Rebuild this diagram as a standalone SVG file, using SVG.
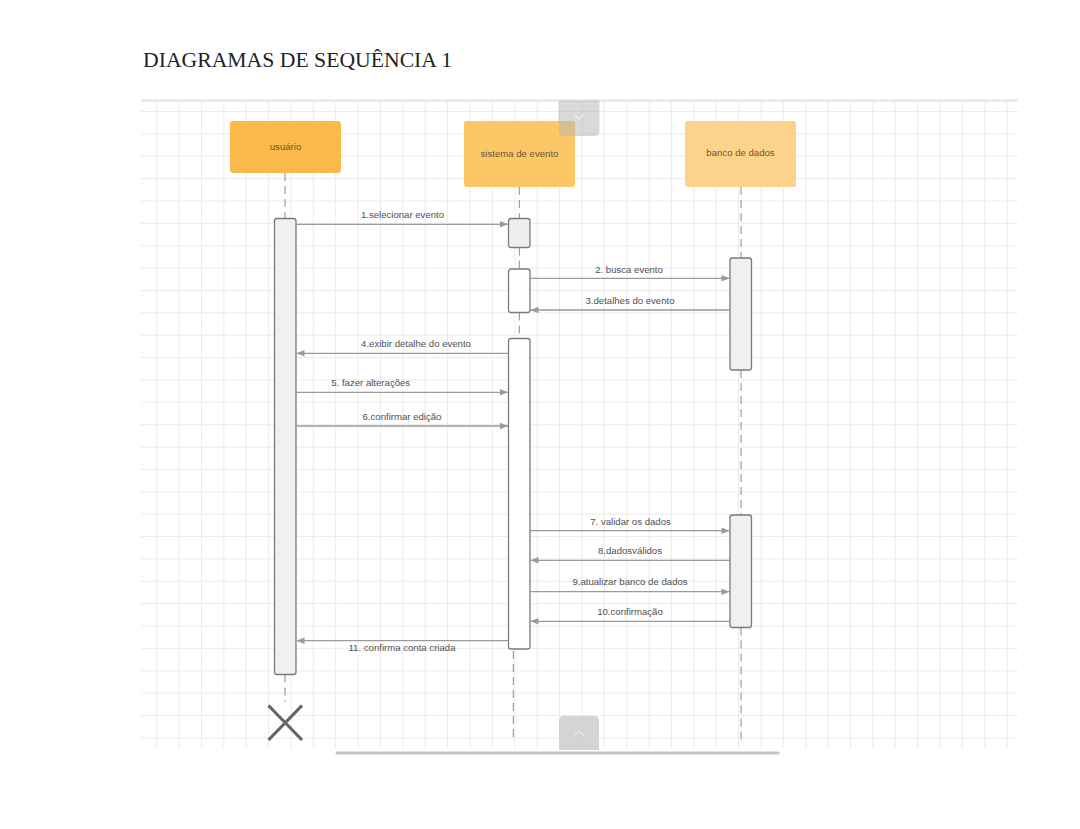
<svg xmlns="http://www.w3.org/2000/svg" width="1080" height="829" viewBox="0 0 1080 829">
<defs>
<style>
.grid{stroke:#ebebeb;stroke-width:1;fill:none}
.life{stroke:#8a8a8a;stroke-width:1;stroke-dasharray:8 5;fill:none}
.act{stroke:#7a7a7a;stroke-width:1.3}
.msg{stroke:#9a9a9a;stroke-width:1.3;fill:none}
.lbl{font-family:"Liberation Sans",Arial,sans-serif;font-size:9.6px;fill:#505050;text-anchor:middle}
.ntxt{font-family:"Liberation Sans",Arial,sans-serif;font-size:9.6px;fill:#6a5632;text-anchor:middle}
</style>
<marker id="arr" viewBox="0 0 10 10" refX="10" refY="5" markerWidth="9" markerHeight="8" markerUnits="userSpaceOnUse" orient="auto">
<path d="M0,1 L10,5 L0,9 Z" fill="#9a9a9a"/>
</marker>
</defs>
<rect width="1080" height="829" fill="#ffffff"/>
<text x="143" y="67" font-family="'Liberation Serif','Times New Roman',serif" font-size="21.7" fill="#222">DIAGRAMAS DE SEQUÊNCIA 1</text>
<g id="grid">
<path class="grid" d="M156.7 101V748M179.1 101V748M201.5 101V748M223.8 101V748M246.2 101V748M268.6 101V748M291 101V748M313.4 101V748M335.7 101V748M358.1 101V748M380.5 101V748M402.9 101V748M425.3 101V748M447.6 101V748M470 101V748M492.4 101V748M514.8 101V748M537.2 101V748M559.5 101V748M581.9 101V748M604.3 101V748M626.7 101V748M649.1 101V748M671.4 101V748M693.8 101V748M716.2 101V748M738.6 101V748M761 101V748M783.3 101V748M805.7 101V748M828.1 101V748M850.5 101V748M872.9 101V748M895.2 101V748M917.6 101V748M940 101V748M962.4 101V748M984.8 101V748M1007.1 101V748"/>
<path class="grid" d="M141 111.5H1018M141 133.9H1018M141 156.2H1018M141 178.6H1018M141 201H1018M141 223.4H1018M141 245.7H1018M141 268.1H1018M141 290.5H1018M141 312.8H1018M141 335.2H1018M141 357.6H1018M141 379.9H1018M141 402.3H1018M141 424.7H1018M141 447.1H1018M141 469.4H1018M141 491.8H1018M141 514.2H1018M141 536.5H1018M141 558.9H1018M141 581.3H1018M141 603.6H1018M141 626H1018M141 648.4H1018M141 670.8H1018M141 693.1H1018M141 715.5H1018M141 737.9H1018"/>
<path d="M141 100.5H1018" stroke="#e8e8da" stroke-width="2.5"/>
</g>
<g id="lifelines">
<path class="life" d="M285 173V218.5"/>
<path class="life" d="M285 674.5V702"/>
<path class="life" d="M519.3 187V218.5M519.3 247.5V269M519.3 312.5V338.5"/>
<path class="life" d="M513.3 651V740"/>
<path class="life" d="M741 187V258M741 370V515M741 627.5V742"/>
</g>
<g id="usuario">
<rect x="230" y="121" width="111" height="52" rx="3" fill="#f9b94b"/>
<text class="ntxt" x="285.5" y="150">usuário</text>
</g>
<g id="sistema">
<rect x="464" y="121" width="111" height="66" rx="3" fill="#fcc767"/>
<text class="ntxt" x="519.5" y="157">sistema de evento</text>
</g>
<g id="banco">
<rect x="685" y="121" width="111" height="66" rx="3" fill="#fdd38c"/>
<text class="ntxt" x="740.5" y="156">banco de dados</text>
</g>
<g id="activations">
<rect class="act" x="274.5" y="218.5" width="21.5" height="456" rx="2.5" fill="#f0f0f0"/>
<rect class="act" x="508.5" y="218.5" width="21.5" height="29" rx="2.5" fill="#eeeeee"/>
<rect class="act" x="508.5" y="269" width="21.5" height="43.5" rx="2.5" fill="#ffffff"/>
<rect class="act" x="508.5" y="338.5" width="21.5" height="310.5" rx="2.5" fill="#ffffff"/>
<rect class="act" x="730" y="258" width="21.5" height="112" rx="2.5" fill="#f0f0f0"/>
<rect class="act" x="730" y="515" width="21.5" height="112.5" rx="2.5" fill="#f0f0f0"/>
</g>
<g id="connectors">
<path class="msg" marker-end="url(#arr)" d="M296 224.3H508"/>
<path class="msg" marker-end="url(#arr)" d="M530 278.3H729.5"/>
<path class="msg" marker-end="url(#arr)" d="M730 310H530.5"/>
<path class="msg" marker-end="url(#arr)" d="M508.5 353.3H296.5"/>
<path class="msg" marker-end="url(#arr)" d="M296 392.3H508"/>
<path class="msg" marker-end="url(#arr)" d="M296 426H508"/>
<path class="msg" marker-end="url(#arr)" d="M530 530.7H729.5"/>
<path class="msg" marker-end="url(#arr)" d="M730 560.3H530.5"/>
<path class="msg" marker-end="url(#arr)" d="M530 591.7H729.5"/>
<path class="msg" marker-end="url(#arr)" d="M730 621.3H530.5"/>
<path class="msg" marker-end="url(#arr)" d="M508.5 640.7H296.5"/>
</g>
<g id="labels">
<text class="lbl" x="402.5" y="218">1.selecionar evento</text>
<text class="lbl" x="629" y="273">2. busca evento</text>
<text class="lbl" x="630" y="304">3.detalhes do evento</text>
<text class="lbl" x="416" y="347">4.exibir detalhe do evento</text>
<text class="lbl" x="370.7" y="386">5. fazer alterações</text>
<text class="lbl" x="402" y="419.5">6.confirmar edição</text>
<text class="lbl" x="630.5" y="524.5">7. validar os dados</text>
<text class="lbl" x="630" y="554">8.dadosválidos</text>
<text class="lbl" x="630" y="585">9.atualizar banco de dados</text>
<text class="lbl" x="630" y="614.5">10.confirmação</text>
<text class="lbl" x="402" y="650.5">11. confirma conta criada</text>
</g>
<g id="destroy">
<path d="M268.5 705.5L302 740M302 705.5L268.5 740" stroke="#666" stroke-width="3.2" fill="none"/>
</g>
<g id="ui-overlay">
<path d="M558.5 100.5H599.5V130.5Q599.5 136 594 136H564Q558.5 136 558.5 130.5Z" fill="#b4b4b4" fill-opacity="0.5"/>
<path d="M574 114L579 119L584 114" stroke="#ededed" stroke-width="1.2" fill="none"/>
<path d="M559 721Q559 716 564 716H594Q599 716 599 721V750H559Z" fill="#cccccc" fill-opacity="0.85"/>
<path d="M574.5 735L579 731L583.5 735" stroke="#e8e8e8" stroke-width="1.2" fill="none"/>
<path d="M337 753H778" stroke="#c4c4c4" stroke-width="3" stroke-linecap="round"/>
</g>
</svg>
